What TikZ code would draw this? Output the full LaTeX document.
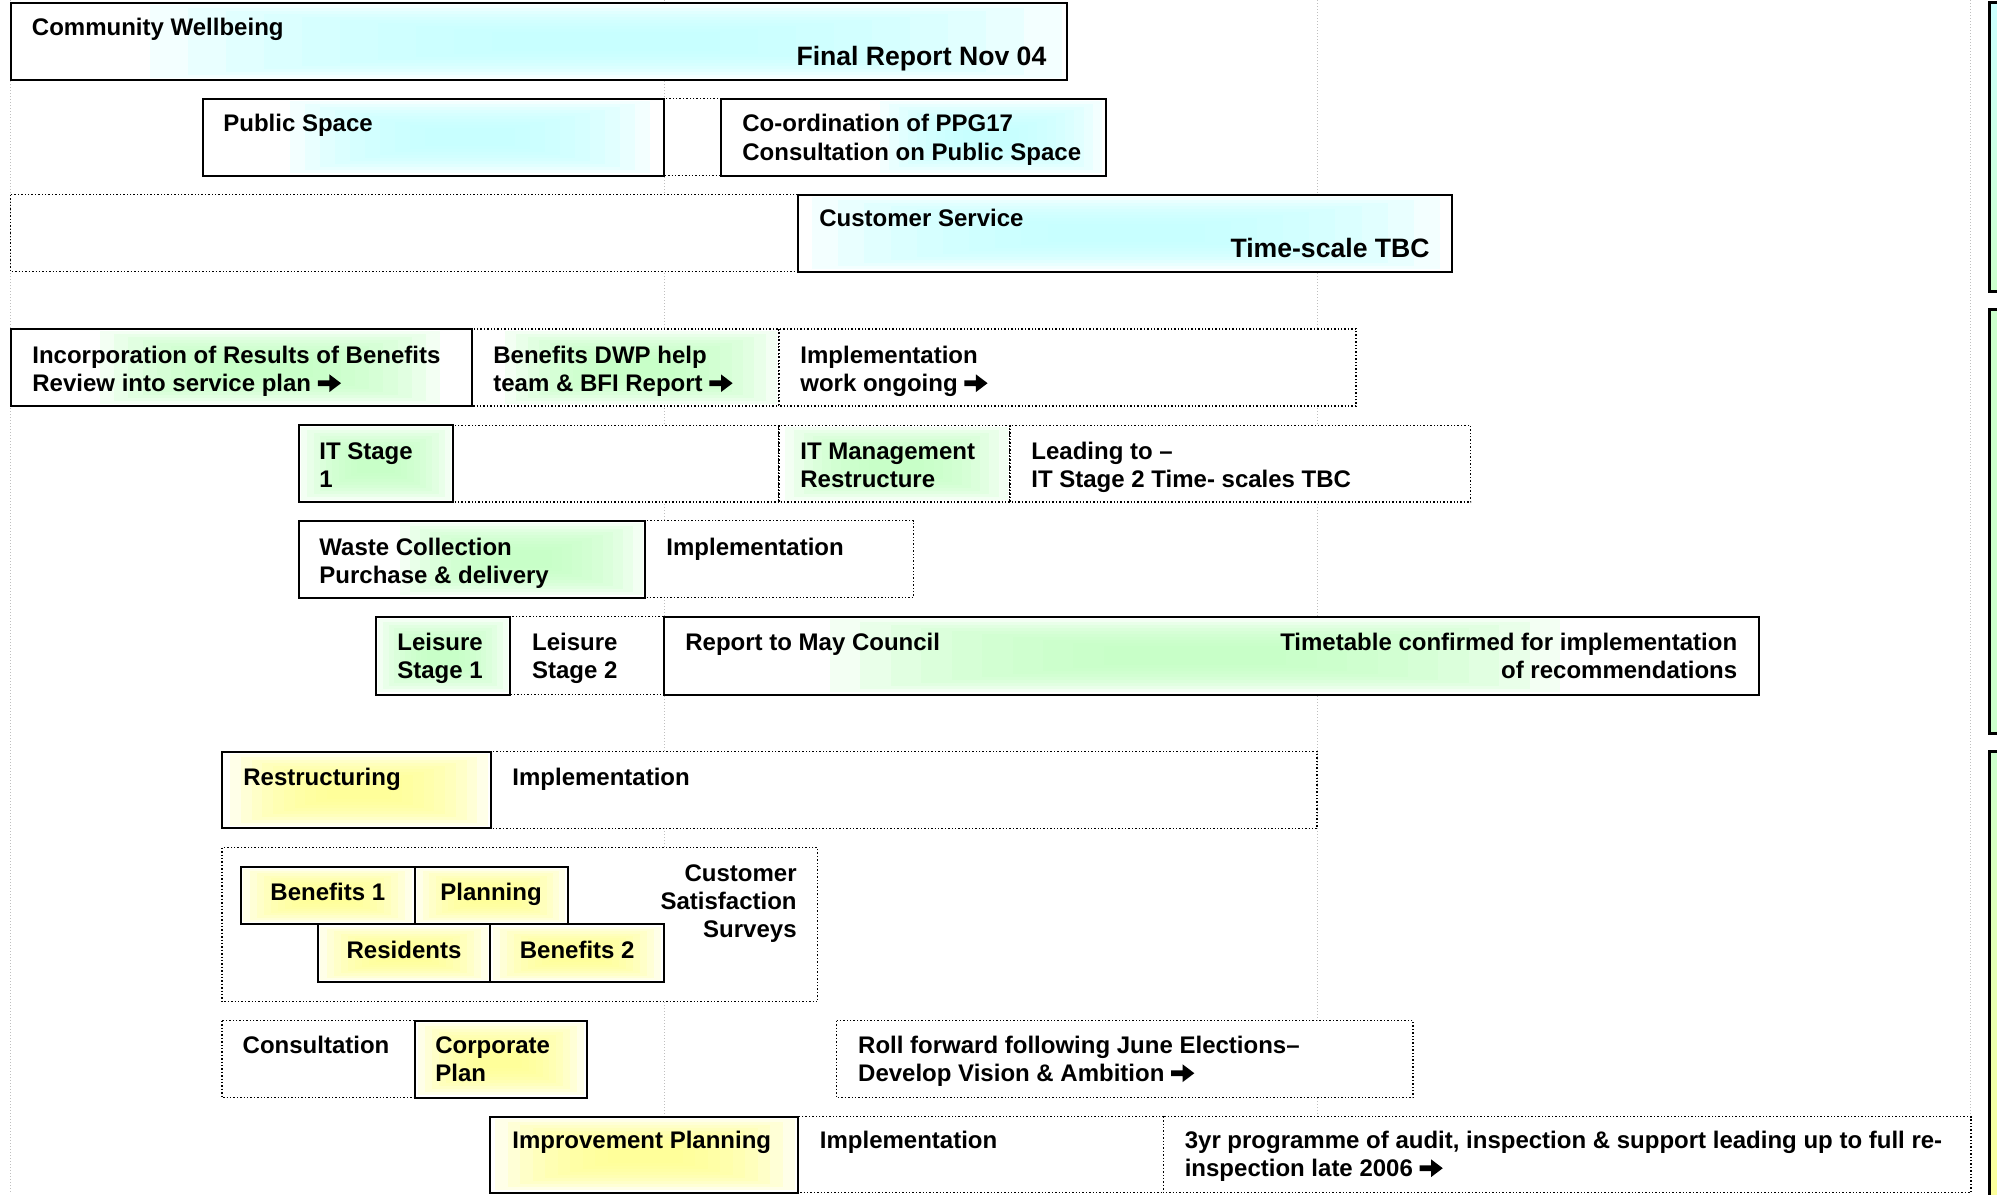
\documentclass[tikz,border=0pt]{standalone}
\usepackage{fontspec}
\setmainfont{Liberation Sans}

% couleurs des halos et des bandeaux
\definecolor{cyanGlow}{HTML}{C4FFFF}
\definecolor{greenGlow}{HTML}{C4FFC4}
\definecolor{yellowGlow}{HTML}{FFFF90}
\definecolor{sideCyan}{HTML}{CCFFFF}
\definecolor{sideGreen}{HTML}{CCFFCC}
\definecolor{sideYellow}{HTML}{FFFF99}

\newcommand{\normalTxt}{\fontsize{12pt}{14.3pt}\selectfont\bfseries}
\newcommand{\largeTxt}{\fontsize{13.3pt}{15.5pt}\selectfont\bfseries}
% texte sur plusieurs lignes, ligne de base = premiere ligne
\newcommand{\linesL}[1]{\begin{tabular}[t]{@{}l@{}}#1\end{tabular}}
\newcommand{\linesR}[1]{\begin{tabular}[t]{@{}r@{}}#1\end{tabular}}
% fleche epaisse apres le texte
\newcommand{\arr}{\tikz[baseline=0pt,x=1pt,y=1pt]\fill (0,2.8) -- (5.8,2.8) -- (5.8,-0.2) -- (11.6,4.2) -- (5.8,8.6) -- (5.8,5.6) -- (0,5.6) -- cycle;}
% halo flou : couches superposees
\newcommand{\glowBox}[5]{%
	\foreach \k in {0,...,9}{%
		\pgfmathsetmacro{\glowDx}{(#4-#2)*\k/24}
		\pgfmathsetmacro{\glowDy}{(#5-#3)*\k/24}
		\fill[#1, fill opacity=0.2] (#2+\glowDx,#3+\glowDy) rectangle (#4-\glowDx,#5-\glowDy);
	}}

\tikzset{
  solidBox/.style={draw=black, line width=1pt, fill=white},
  dotBox/.style={draw=black, line width=0.7pt, densely dotted, fill=white},
  gridLine/.style={draw=gray!50, line width=0.5pt, densely dotted},
  sidePanel/.style={draw=black, line width=1.5pt},
  txt/.style={font=\normalTxt, anchor=base west, inner sep=0pt},
  txtR/.style={txt, anchor=base east},
  txtC/.style={txt, anchor=base},
  bigR/.style={txtR, font=\largeTxt},
}

\begin{document}
\begin{tikzpicture}[x=0.5pt,y=-0.5pt]
		% cadre de la page (pixels, y vers le bas)
		\useasboundingbox (0,0) rectangle (1997,1194);
		\clip (0,0) rectangle (1997,1194);
		\fill[white] (0,0) rectangle (1997,1194);

		% lignes de repère verticales
		\foreach \gx in {10.5,664,1317,1970}{%
			\draw[gridLine] (\gx,0) -- (\gx,1194);
		}

		% bandeaux de droite
		\shadedraw[sidePanel, top color=sideCyan, bottom color=sideGreen] (1989,2.5) rectangle (2012,291);
		\filldraw[sidePanel, fill=sideGreen] (1989,309) rectangle (2012,733);
		\shadedraw[sidePanel, top color=sideGreen, bottom color=sideYellow] (1989,751) rectangle (2012,1215);

		% Community Wellbeing
		\path[solidBox] (10.5,2.7) rectangle (1067,80);
		\glowBox{cyanGlow}{150}{5}{1062}{78}
		\node[txt] (cwTitle) at (31.6,35) {Community Wellbeing};
		\node[bigR] (cwEnd) at (1046.7,65) {Final Report Nov 04};

		% Public Space
		\path[dotBox] (663.6,98.7) rectangle (721,175.7);
		\path[solidBox] (203,98.7) rectangle (663.6,175.7);
		\glowBox{cyanGlow}{290}{101}{650}{173}
		\path[solidBox] (721,98.7) rectangle (1105.5,175.7);
		\glowBox{cyanGlow}{880}{101}{1102}{173}
		\node[txt] (psTitle) at (223,131.7) {Public Space};
		\node[txt] (ppgTitle) at (742,131.7) {\linesL{Co-ordination of PPG17\\Consultation on Public Space}};

		% Customer Service
		\path[dotBox] (10.5,194.7) rectangle (798,271.7);
		\path[solidBox] (798,194.7) rectangle (1452,271.7);
		\glowBox{cyanGlow}{812}{197}{1440}{269}
		\node[txt] (csTitle) at (819,226.7) {Customer Service};
		\node[bigR] (csEnd) at (1430,257) {Time-scale TBC};

		% Benefits
		\path[dotBox] (472,329) rectangle (779,406);
		\glowBox{greenGlow}{505}{331}{777}{404}
		\path[dotBox] (779,329) rectangle (1356,406);
		\path[solidBox] (10.8,329) rectangle (472,406);
		\glowBox{greenGlow}{100}{331}{440}{404}
		\node[txt] (incTitle) at (32,363) {\linesL{Incorporation of Results of Benefits\\Review into service plan \arr}};
		\node[txt] (dwpTitle) at (493,363) {\linesL{Benefits DWP help\\team \& BFI Report \arr}};
		\node[txt] (ongoTitle) at (800,363) {\linesL{Implementation\\work ongoing \arr}};

		% IT
		\path[dotBox] (453,425.3) rectangle (779,502);
		\path[dotBox] (779,425.3) rectangle (1010,502);
		\glowBox{greenGlow}{785}{427}{1008}{500}
		\path[dotBox] (1010,425.3) rectangle (1470.5,502);
		\path[solidBox] (298.5,425.3) rectangle (453,502);
		\glowBox{greenGlow}{301}{427}{451}{500}
		\node[txt] (itOne) at (319,459) {\linesL{IT Stage\\1}};
		\node[txt] (itMgt) at (800,459) {\linesL{IT Management\\Restructure}};
		\node[txt] (itLead) at (1031,459) {\linesL{Leading to –\\IT Stage 2 Time- scales TBC}};

		% Waste Collection
		\path[dotBox] (645.4,520.7) rectangle (913.3,597.7);
		\path[solidBox] (298.5,520.7) rectangle (645.4,597.7);
		\glowBox{greenGlow}{400}{523}{643}{595}
		\node[txt] (wasteTitle) at (319,555) {\linesL{Waste Collection\\Purchase \& delivery}};
		\node[txt] (wasteImpl) at (666,555) {Implementation};

		% Leisure
		\path[dotBox] (510,616.7) rectangle (663.5,694.5);
		\path[solidBox] (376,616.7) rectangle (510,694.5);
		\glowBox{greenGlow}{378}{619}{508}{692}
		\path[solidBox] (663.5,616.7) rectangle (1758.6,694.5);
		\glowBox{greenGlow}{830}{619}{1560}{692}
		\node[txt] (lsOne) at (397,650) {\linesL{Leisure\\Stage 1}};
		\node[txt] (lsTwo) at (531.7,650) {\linesL{Leisure\\Stage 2}};
		\node[txt] (mayTitle) at (685,650) {Report to May Council};
		\node[txtR] (mayEnd) at (1737.6,650) {\linesR{Timetable confirmed for implementation\\of recommendations}};

		% Restructuring
		\path[dotBox] (491,751.7) rectangle (1317,828.3);
		\path[solidBox] (222,751.7) rectangle (491,828.3);
		\glowBox{yellowGlow}{230}{754}{488}{826}
		\node[txt] (restrTitle) at (243,785) {Restructuring};
		\node[txt] (restrImpl) at (512,785) {Implementation};

		% Customer Satisfaction Surveys
		\path[dotBox] (222,847.7) rectangle (817.6,1001.7);
		\path[solidBox] (241,866.7) rectangle (414.5,924.3);
		\glowBox{yellowGlow}{243}{869}{412}{922}
		\path[solidBox] (414.5,866.7) rectangle (567.6,924.3);
		\glowBox{yellowGlow}{417}{869}{565}{922}
		\path[solidBox] (317.6,924.3) rectangle (490.4,982.3);
		\glowBox{yellowGlow}{320}{927}{488}{980}
		\path[solidBox] (490.4,924.3) rectangle (664,982.3);
		\glowBox{yellowGlow}{493}{927}{661}{980}
		\node[txtC] (benOne) at (327.8,900) {Benefits 1};
		\node[txtC] (planTitle) at (491,900) {Planning};
		\node[txtC] (resTitle) at (404,958.3) {Residents};
		\node[txtC] (benTwo) at (577.2,958.3) {Benefits 2};
		\node[txtR, font=\fontsize{12pt}{13.85pt}\selectfont\bfseries] (survTitle) at (797,881.7) {\linesR{Customer\\Satisfaction\\Surveys}};

		% Consultation / Corporate Plan / Roll forward
		\path[dotBox] (222,1020.7) rectangle (414.5,1097.7);
		\path[solidBox] (414.5,1020.7) rectangle (586.7,1097.7);
		\glowBox{yellowGlow}{418}{1023}{584}{1095}
		\path[dotBox] (836.7,1020.7) rectangle (1413,1097.7);
		\node[txt] (consTitle) at (242.3,1053) {Consultation};
		\node[txt] (corpTitle) at (435,1053) {\linesL{Corporate\\Plan}};
		\node[txt] (rollTitle) at (857.8,1053) {\linesL{Roll forward following June Elections–\\Develop Vision \& Ambition \arr}};

		% Improvement Planning
		\path[dotBox] (797.8,1116.7) rectangle (1163.4,1192.5);
		\path[dotBox] (1163.4,1116.7) rectangle (1971,1192.5);
		\path[solidBox] (490.4,1116.7) rectangle (797.8,1192.5);
		\glowBox{yellowGlow}{495}{1119}{795}{1190}
		\node[txt] (imprTitle) at (512,1148) {Improvement Planning};
		\node[txt] (imprImpl) at (819.5,1148) {Implementation};
		\node[txt] (imprEnd) at (1184.4,1148) {\linesL{3yr programme of audit, inspection \& support leading up to full re-\\inspection late 2006 \arr}};
\end{tikzpicture}
\end{document}
